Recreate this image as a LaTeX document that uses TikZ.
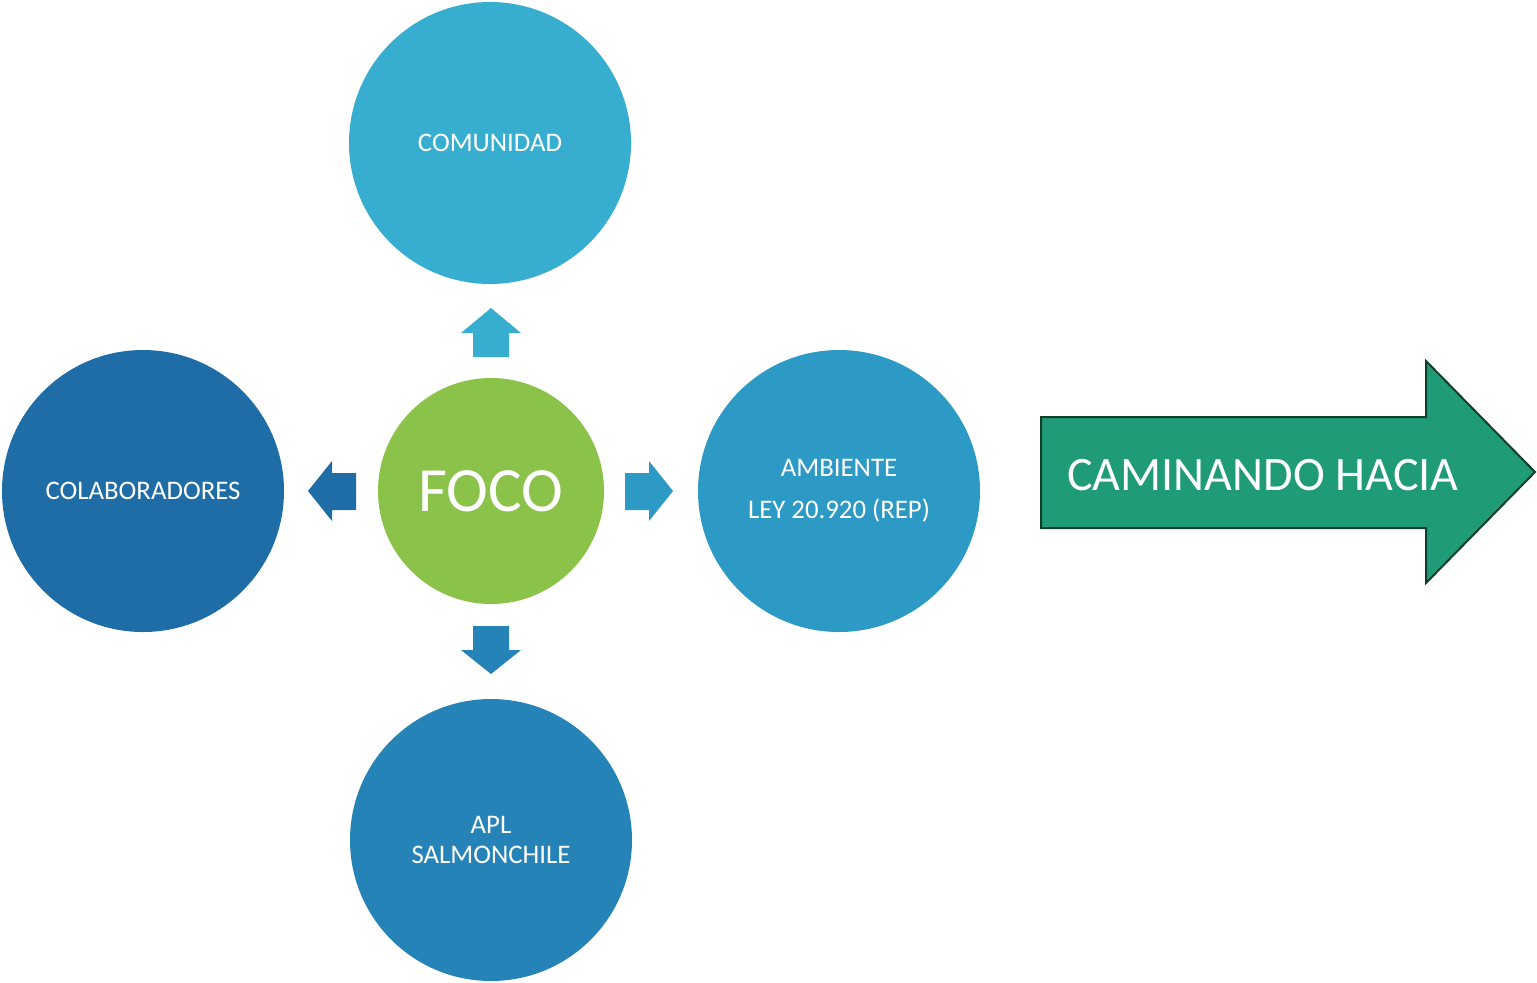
\documentclass[tikz,border=0pt]{standalone}
\usepackage{fontspec}
\setmainfont{Carlito}
\definecolor{cComu}{HTML}{37AECF}
\definecolor{cColab}{HTML}{1F6DA7}
\definecolor{cFoco}{HTML}{8BC249}
\definecolor{cAmb}{HTML}{2D9AC6}
\definecolor{cApl}{HTML}{2683B7}
\definecolor{cArrow}{HTML}{1F9C77}
\definecolor{cArrowLine}{HTML}{0F3F2C}
\begin{document}
\begin{tikzpicture}[x=0.5pt,y=-0.5pt,
  bubble/.style={circle, minimum size=141pt, inner sep=0pt, text=white,
    font=\fontsize{13.4}{15}\selectfont, align=center}]
\useasboundingbox (0,0) rectangle (1537,982);
% circles
\node[bubble, fill=cComu] (comu) at (490,143) {COMUNIDAD};
\node[bubble, fill=cColab] (colab) at (143,491) {COLABORADORES};
\node[bubble, fill=cFoco, minimum size=113pt, font=\fontsize{31.5}{37}\selectfont] (foco) at (491,491) {FOCO};
\node[bubble, fill=cAmb] (amb) at (839,491) {\raisebox{-1pt}{AMBIENTE}\\[6pt]\raisebox{-1pt}{LEY 20.920 (REP)}};
\node[bubble, fill=cApl] (apl) at (491,840) {APL\\SALMONCHILE};
% small block arrows
\fill[cComu] (473,357) -- (473,333) -- (461,333) -- (491,308) -- (521,333) -- (509,333) -- (509,357) -- cycle;
\fill[cColab] (356,473) -- (332,473) -- (332,461) -- (308,491) -- (332,521) -- (332,510) -- (356,510) -- cycle;
\fill[cAmb] (625,473) -- (649,473) -- (649,461) -- (673,491) -- (649,521) -- (649,510) -- (625,510) -- cycle;
\fill[cApl] (473,626) -- (473,650) -- (461,650) -- (491,674) -- (521,650) -- (509,650) -- (509,626) -- cycle;
% big arrow
\draw[fill=cArrow, draw=cArrowLine, line width=1pt, line join=miter]
  (1041,417) -- (1426,417) -- (1426,361) -- (1535,472) -- (1426,583) -- (1426,528) -- (1041,528) -- cycle;
\node[anchor=west, inner sep=0pt, text=white, font=\fontsize{24}{29}\selectfont] (cam) at (1067,475) {CAMINANDO HACIA};
\end{tikzpicture}
\end{document}
